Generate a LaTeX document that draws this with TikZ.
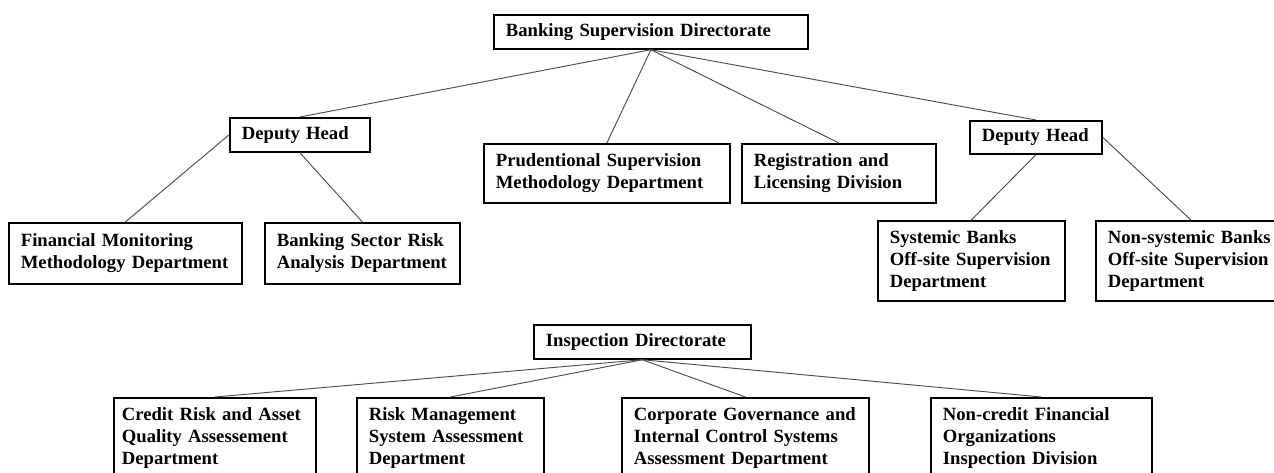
\documentclass[tikz,border=0pt]{standalone}
\usepackage{fontspec}
\setmainfont{Liberation Serif}
\usepackage{tikz}
\usetikzlibrary{calc}

\tikzset{
  unit/.style={draw, line width=1.3pt, anchor=north west, align=left,
    inner xsep=9pt, inner ysep=0pt, font=\bfseries\fontsize{14}{16.5}\selectfont},
  link/.style={black!70, line width=0.7pt},
}

\begin{document}
\begin{tikzpicture}[x=0.75pt,y=-0.75pt]
    \useasboundingbox (0,0) rectangle (1274,473);
    \clip (0,0) rectangle (1274,473);
    % supervision
    \node[unit,text width=217.5pt,minimum height=25.5pt] (bsd) at (493,14) {Banking Supervision Directorate};
    \node[unit,text width=87pt,minimum height=25.5pt] (dhl) at (229,117) {Deputy Head};
    \node[unit,text width=156.75pt,minimum height=45.75pt] (fmm) at (8,222) {Financial Monitoring\\Methodology Department};
    \node[unit,text width=128.25pt,minimum height=45.75pt] (bsr) at (264,222) {Banking Sector Risk\\Analysis Department};
    \node[unit,text width=166.5pt,minimum height=44.25pt] (psm) at (483,143) {Prudentional Supervision\\Methodology Department};
    \node[unit,text width=127.5pt,minimum height=44.25pt] (rld) at (741,143) {Registration and\\Licensing Division};
    \node[unit,text width=81pt,minimum height=24.75pt] (dhr) at (969,120) {Deputy Head};
    \node[unit,text width=122.25pt,minimum height=60pt] (sbo) at (877,220) {Systemic Banks\\Off-site Supervision\\Department};
    \node[unit,text width=124.5pt,minimum height=60pt] (nsb) at (1095,220) {Non-systemic Banks\\Off-site Supervision\\Department};
    \draw[link] (bsd.south) -- (dhl.north);
    \draw[link] (bsd.south) -- (psm.north);
    \draw[link] (bsd.south) -- (rld.north);
    \draw[link] (bsd.south) -- (dhr.north);
    \draw[link] (dhl.west) -- (fmm.north);
    \draw[link] (dhl.south) -- (bsr.north);
    \draw[link] (dhr.south) -- (sbo.north);
    \draw[link] (dhr.east) -- (nsb.north);
    % inspection
    \node[unit,text width=144.75pt,minimum height=25.5pt] (ind) at (533,324) {Inspection Directorate};
    \node[unit,inner xsep=6pt,text width=139.5pt,minimum height=60pt] (cra) at (113,397) {\mbox{Credit Risk and Asset}\\Quality Assessement\\Department};
    \node[unit,text width=122.25pt,minimum height=60pt] (rms) at (356,397) {Risk Management\\System Assessment\\Department};
    \node[unit,text width=167.25pt,minimum height=60pt] (cgi) at (621,397) {Corporate Governance and\\Internal Control Systems\\Assessment Department};
    \node[unit,text width=147.75pt,minimum height=60pt] (nfo) at (930,397) {Non-credit Financial\\Organizations\\Inspection Division};
    \foreach \n in {cra,rms,cgi,nfo}
        \draw[link] (ind.south) -- (\n.north);
\end{tikzpicture}
\end{document}
